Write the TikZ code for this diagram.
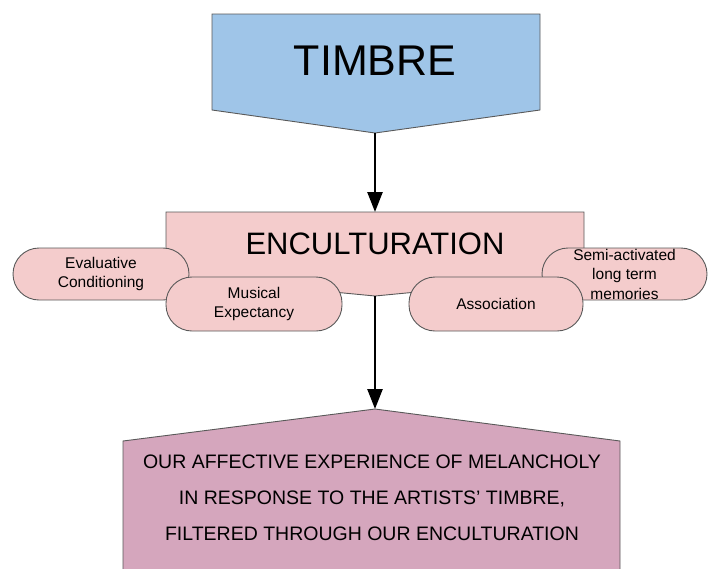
\documentclass[tikz,border=0pt]{standalone}
\usepackage{fontspec}
\setmainfont{Liberation Sans}
\usetikzlibrary{arrows.meta}
\definecolor{timbreblue}{HTML}{9FC5E8}
\definecolor{encpink}{HTML}{F4CCCC}
\definecolor{outmauve}{HTML}{D5A6BD}
\definecolor{edgegray}{HTML}{595959}
\begin{document}
\begin{tikzpicture}[x=1pt,y=-1pt,
  shapeline/.style={draw=edgegray, line width=0.9pt},
  pill/.style={shapeline, fill=encpink, rounded corners=26pt, minimum height=52pt,
    align=center, font=\fontsize{15.5}{19.5}\selectfont, inner sep=0pt},
  flow/.style={line width=2.5pt, -{Triangle[width=15pt,length=20pt]}}]
\useasboundingbox (0,0) rectangle (708,568);
\clip (0,0) rectangle (708,568);
% TIMBRE
\draw[shapeline, fill=timbreblue] (212,14) -- (540,14) -- (540,110) -- (375,133) -- (212,110) -- cycle;
\node (timbre) at (375,60.5) {\fontsize{43}{43}\selectfont TIMBRE};
\coordinate (timbreTip) at (375,133);
% ENCULTURATION
\draw[shapeline, fill=encpink] (166,212) -- (584,212) -- (584,276) -- (375,296) -- (166,276) -- cycle;
\node (enc) at (375,244) {\fontsize{31}{31}\selectfont ENCULTURATION};
\coordinate (encTop) at (375,212);
\coordinate (encTip) at (375,296);
% pills
\node[pill, minimum width=176pt] (evc) at (101,274) {Evaluative\\Conditioning};
\node[pill, minimum width=176pt, minimum height=54pt] (mus) at (254,304) {Musical\\Expectancy};
\node[pill, minimum width=165pt] (semi) at (624.5,274) {Semi-activated\\long term\\memories};
\node[pill, minimum width=174pt, minimum height=54pt] (assoc) at (496,304) {Association};
% OUTCOME
\draw[shapeline, fill=outmauve] (123,441) -- (375,409) -- (620,441) -- (620,575) -- (123,575) -- cycle;
\node[align=center, font=\fontsize{19.5}{36}\selectfont] (outcome) at (372,498)
  {OUR AFFECTIVE EXPERIENCE OF MELANCHOLY\\IN RESPONSE TO THE ARTISTS’ TIMBRE,\\FILTERED THROUGH OUR ENCULTURATION};
\coordinate (outTip) at (375,409);
% arrows
\draw[flow] (timbreTip) -- (encTop);
\draw[flow] (encTip) -- (outTip);
\end{tikzpicture}
\end{document}
